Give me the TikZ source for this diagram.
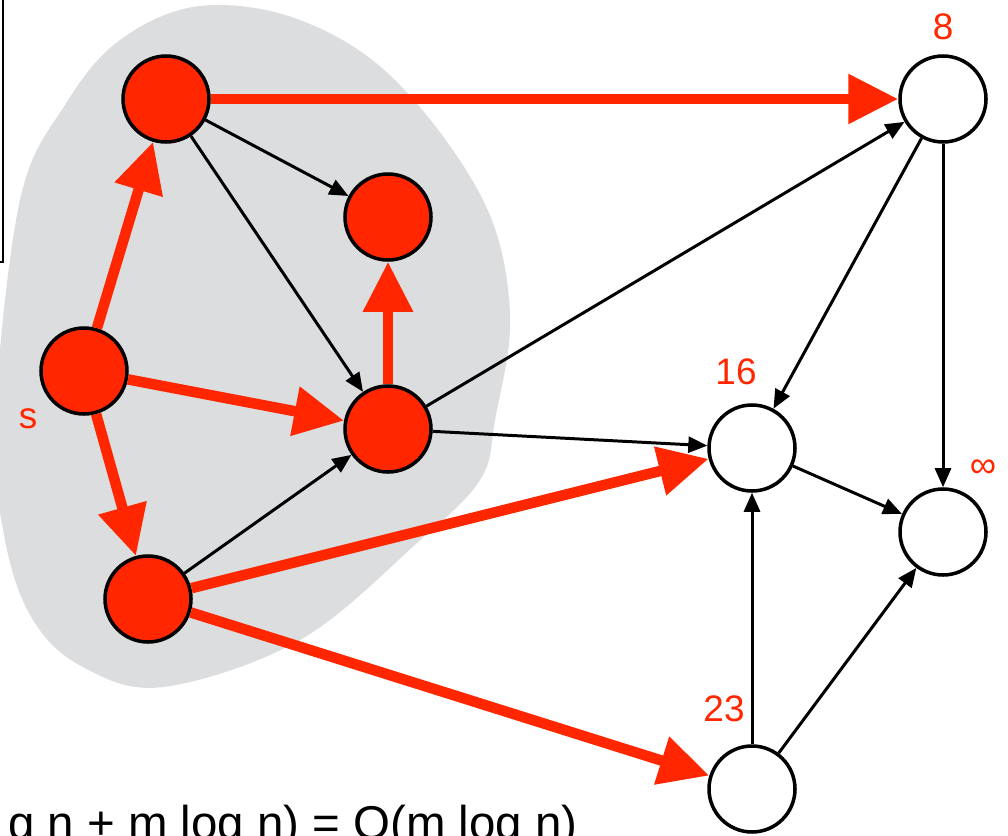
\documentclass[tikz,border=0pt]{standalone}
\usepackage{fontspec}
\setmainfont{Liberation Sans}
\usetikzlibrary{arrows.meta}
\definecolor{dred}{RGB}{255,38,0}
\definecolor{blobgrey}{RGB}{220,221,223}
\tikzset{
	reached/.style={circle, draw, line width=2pt, fill=dred, minimum size=1.72cm, inner sep=0pt},
	unreached/.style={circle, draw, line width=2pt, fill=white, minimum size=1.72cm, inner sep=0pt},
	treeedge/.style={draw=dred, line width=6pt, -{Triangle[length=1cm,width=0.95cm]}},
	plainedge/.style={line width=1.7pt, -{Triangle[length=0.38cm,width=0.32cm]}},
	dist/.style={text=dred, inner sep=0pt, font=\fontsize{21}{25}\selectfont}
}

\begin{document}
\begin{tikzpicture}
				\useasboundingbox (0, 0) rectangle (20.16, 16.7);
				\clip (0, 0) rectangle (20.16, 16.7);
				
				% explored region
				\fill[blobgrey] plot[smooth cycle, tension=0.6] coordinates {
					(4.0, 16.58) (6.0, 16.3) (7.9, 15.1) (9.66, 12.7) (10.2, 10.44)
					(9.9, 8.3) (9.6, 7.1) (8.34, 5.84) (6.0, 3.9) (3.26, 2.96)
					(1.66, 3.36) (0.66, 4.3) (0.1, 5.9) (-0.1, 8.3) (0.4, 12.7)
					(1.3, 14.6) (2.4, 15.9)};
				
				\draw[line width=1.4pt] (-2, 17.5) rectangle (0.06, 11.46);
				
				\node[reached] (a) at (3.32, 14.72) {};
				\node[reached] (b) at (7.76, 12.36) {};
				\node[reached] (s) at (1.68, 9.28) {};
				\node[reached] (c) at (7.76, 8.12) {};
				\node[reached] (d) at (2.96, 4.72) {};
				
				\node[unreached] (e) at (18.86, 14.72) {};
				\node[unreached] (f) at (15.04, 7.74) {};
				\node[unreached] (g) at (18.86, 6.06) {};
				\node[unreached] (h) at (15.04, 0.92) {};
				
				\node[dist] (ls) at (0.56, 8.32) {s};
				\node[dist] (le) at (18.86, 16.16) {8};
				\node[dist] (lf) at (14.72, 9.26) {16};
				\node[dist] (lg) at (19.66, 7.32) {∞};
				\node[dist] (lh) at (14.48, 2.52) {23};
				
				\draw[plainedge] (a) -- (b);
				\draw[plainedge] (a) -- (c);
				\draw[plainedge] (d) -- (c);
				\draw[plainedge] (c) -- (e);
				\draw[plainedge] (c) -- (f);
				\draw[plainedge] (e) -- (f);
				\draw[plainedge] (e) -- (g);
				\draw[plainedge] (f) -- (g);
				\draw[plainedge] (h) -- (f);
				\draw[plainedge] (h) -- (g);
				
				\draw[treeedge] (s) -- (a);
				\draw[treeedge] (s) -- (c);
				\draw[treeedge] (s) -- (d);
				\draw[treeedge] (c) -- (b);
				\draw[treeedge] (a) -- (e);
				\draw[treeedge] (d) -- (f);
				\draw[treeedge] (d) -- (h);
				
				\node[anchor=base east, inner sep=0pt, font=\fontsize{27}{32}\selectfont] (cost) at (11.56, -0.08) {g n + m log n) = O(m log n)};
			\end{tikzpicture}
\end{document}
